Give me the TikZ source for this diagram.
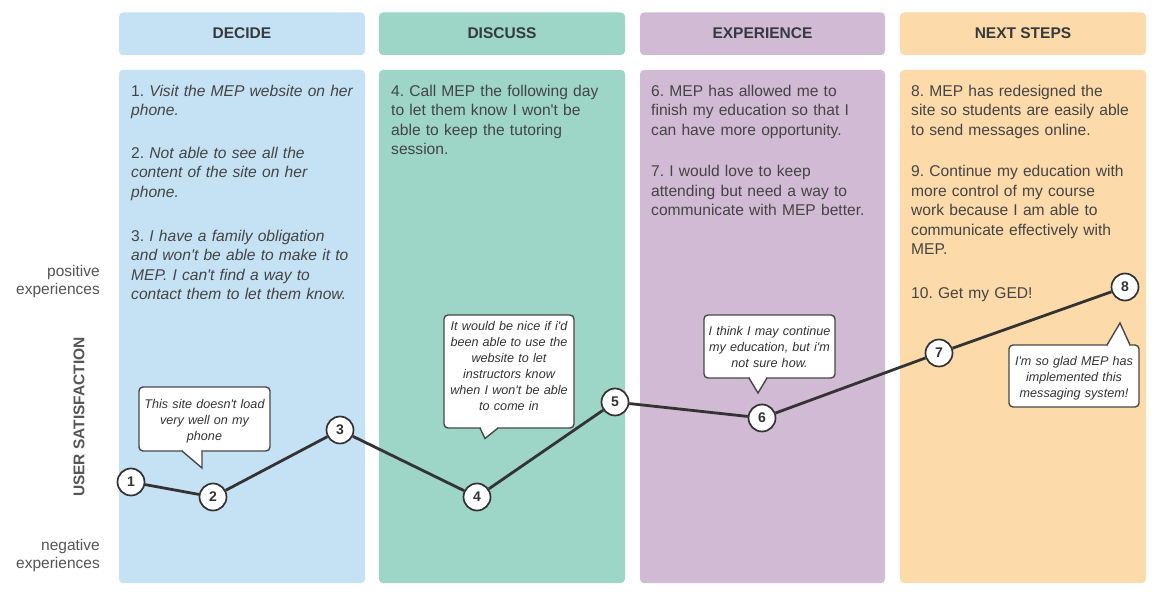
\documentclass[tikz,border=0pt]{standalone}
\usepackage{fontspec}
\setmainfont{Liberation Sans}
\frenchspacing
\newcommand{\apos}{\textquotesingle}
\definecolor{cblue}{HTML}{C5E2F4}
\definecolor{cteal}{HTML}{9DD5C7}
\definecolor{cpurp}{HTML}{D1BAD3}
\definecolor{corng}{HTML}{FDDAAA}
\definecolor{hdrc}{HTML}{36393D}
\definecolor{txtc}{HTML}{444444}
\definecolor{axc}{HTML}{555555}
\definecolor{linec}{HTML}{333333}
\begin{document}
\begin{tikzpicture}[x=1pt,y=-1pt,
  colbox/.style={rounded corners=4pt},
  hdrtext/.style={font=\fontsize{15.5}{18}\selectfont\bfseries, text=hdrc, inner sep=0pt},
  bodytext/.style={text=txtc, font=\fontsize{15.6}{19.5}\selectfont, text width=240pt, align=left, inner sep=0pt, anchor=base west},
  axtext/.style={text=axc, font=\fontsize{15.5}{18.5}\selectfont, text width=100pt, align=right, inner sep=0pt, anchor=base east},
  axtitle/.style={text=axc, font=\fontsize{15.5}{18}\selectfont\bfseries, inner sep=0pt, rotate=90},
  ptnode/.style={circle, draw=linec, line width=1.7pt, fill=white, minimum size=27pt, inner sep=0pt, font=\fontsize{14}{14}\selectfont\bfseries, text=linec},
  journey/.style={draw=linec, line width=2.8pt, line join=round},
  callbox/.style={draw=linec!90, line width=1.4pt, fill=white},
  calltext/.style={text=linec, font=\fontsize{12.6}{16}\selectfont\itshape, text width=130pt, align=center, inner sep=0pt, anchor=base}
]
\useasboundingbox (0,0) rectangle (1160,599);
\fill[white] (0,0) rectangle (1160,599);

% columns
\fill[cblue, colbox] (119,12.5) rectangle (365,55);
\fill[cteal, colbox] (379,12.5) rectangle (625,55);
\fill[cpurp, colbox] (640,12.5) rectangle (885,55);
\fill[corng, colbox] (900,12.5) rectangle (1146,55);
\fill[cblue, colbox] (119,70) rectangle (365,583);
\fill[cteal, colbox] (379,70) rectangle (625,583);
\fill[cpurp, colbox] (640,70) rectangle (885,583);
\fill[corng, colbox] (900,70) rectangle (1146,583);

\node[hdrtext] (h1) at (242,33.5) {DECIDE};
\node[hdrtext] (h2) at (502,33.5) {DISCUSS};
\node[hdrtext] (h3) at (762.5,33.5) {EXPERIENCE};
\node[hdrtext] (h4) at (1023,33.5) {NEXT STEPS};

% body texts
\node[bodytext] (t1) at (131,96.5) {1. \textit{Visit the MEP website on her}\\\textit{phone.}};
\node[bodytext] (t2) at (131,158.5) {2. \textit{Not able to see all the}\\\textit{content of the site on her}\\\textit{phone.}};
\node[bodytext] (t3) at (131,241) {3. \textit{I have a family obligation}\\\textit{and won\apos t be able to make it to}\\\textit{MEP. I can\apos t find a way to}\\\textit{contact them to let them know.}};
\node[bodytext] (t4) at (391,96.5) {4. Call MEP the following day\\to let them know I won\apos t be\\able to keep the tutoring\\session.};
\node[bodytext] (t6) at (651,96.5) {6. MEP has allowed me to\\finish my education so that I\\can have more opportunity.};
\node[bodytext] (t7) at (651,177) {7. I would love to keep\\attending but need a way to\\communicate with MEP better.};
\node[bodytext] (t8) at (911,96.5) {8. MEP has redesigned the\\site so students are easily able\\to send messages online.};
\node[bodytext] (t9) at (911,177) {9. Continue my education with\\more control of my course\\work because I am able to\\communicate effectively with\\MEP.};
\node[bodytext] (t10) at (911,298) {10. Get my GED!};

% axis
\node[axtext] (pos) at (100,276) {positive\\experiences};
\node[axtext] (neg) at (100,550) {negative\\experiences};
\node[axtitle] (ust) at (79,417) {USER SATISFACTION};

% callouts
\filldraw[callbox, rounded corners=4pt] (139,387) rectangle (270,451);
\fill[white] (182.8,449) rectangle (201.3,453);
\filldraw[callbox] (182,451) -- (202,468) -- (202,451);
\node[calltext] (c1) at (204.5,408) {This site doesn\apos t load\\very well on my\\phone};

\filldraw[callbox, rounded corners=4pt] (444,315) rectangle (574,428);
\fill[white] (480.5,426) rectangle (497,430);
\filldraw[callbox] (480,428) -- (485,438.5) -- (498,428);
\node[calltext] (c2) at (509,330) {It would be nice if i\apos d\\been able to use the\\website to let\\instructors know\\when I won\apos t be able\\to come in};

\filldraw[callbox, rounded corners=4pt] (704,315) rectangle (835,378);
\fill[white] (750,376) rectangle (766,380);
\filldraw[callbox] (749,378) -- (758,393) -- (767,378);
\node[calltext] (c3) at (769.5,335) {I think I may continue\\my education, but i\apos m\\not sure how.};

\filldraw[callbox, rounded corners=4pt] (1009,345) rectangle (1139,407);
\fill[white] (1108,343) rectangle (1129,347);
\filldraw[callbox] (1107,345) -- (1120,323) -- (1130,345);
\node[calltext] (c4) at (1074,365) {I\apos m so glad MEP has\\implemented this\\messaging system!};

% journey points
\node[ptnode] (p1) at (131,482) {1};
\node[ptnode] (p2) at (213,497) {2};
\node[ptnode] (p3) at (340,430) {3};
\node[ptnode] (p4) at (477,497) {4};
\node[ptnode] (p5) at (615,402) {5};
\node[ptnode] (p6) at (762,418) {6};
\node[ptnode] (p7) at (939,353) {7};
\node[ptnode] (p8) at (1125,287) {8};
\draw[journey] (p1) -- (p2) -- (p3) -- (p4) -- (p5) -- (p6) -- (p7) -- (p8);
\end{tikzpicture}
\end{document}
